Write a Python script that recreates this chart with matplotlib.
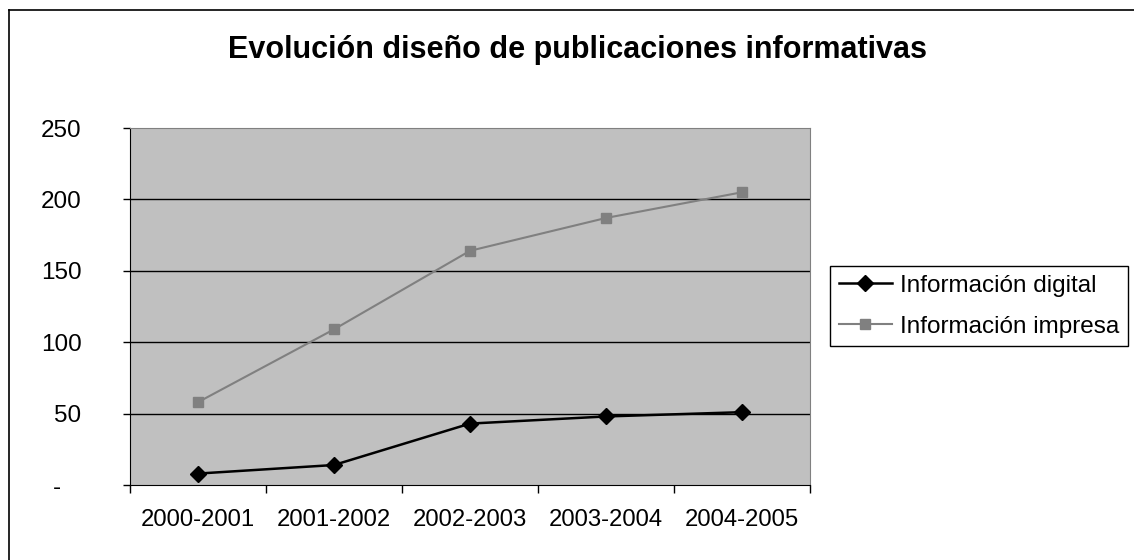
import matplotlib.pyplot as plt
from matplotlib.lines import Line2D
from matplotlib.ticker import FixedLocator, FuncFormatter

plt.rcParams["font.family"] = ["Liberation Sans", "DejaVu Sans"]

periods = ["2000-2001", "2001-2002", "2002-2003", "2003-2004", "2004-2005"]
digital = [8, 14, 43, 48, 51]
impresa = [58, 109, 164, 187, 205]
y_ticks = [0, 50, 100, 150, 200, 250]

fig = plt.figure(figsize=(11.34, 5.6), dpi=100)
ax = fig.add_axes([130 / 1134, 1 - 485 / 560, 680 / 1134, 357 / 560])
ax.set_facecolor("#c0c0c0")

x = list(range(len(periods)))
ax.plot(x, digital, color="black", lw=1.8, marker="D", ms=8,
        label="Información digital", zorder=3)
ax.plot(x, impresa, color="#808080", lw=1.5, marker="s", ms=7.5,
        label="Información impresa", zorder=3)

ax.set_xlim(-0.5, len(periods) - 0.5)
ax.set_ylim(0, 250)

# category labels centred, tick marks on category boundaries
ax.set_xticks(x)
ax.set_xticklabels(periods, fontsize=17.2)
ax.xaxis.set_minor_locator(FixedLocator([i - 0.5 for i in range(len(periods) + 1)]))
ax.tick_params(axis="x", which="major", length=0, pad=17)
ax.tick_params(axis="x", which="minor", length=6, width=1, color="black")

ax.set_yticks(y_ticks)
ax.yaxis.set_major_formatter(FuncFormatter(lambda v, p: "-   " if v == 0 else f"{v:.0f}"))
ax.tick_params(axis="y", length=5, width=1, pad=30, labelsize=17.5)

for v in y_ticks[1:-1]:
    ax.axhline(v, color="black", lw=1, zorder=1)

for side in ["left", "bottom"]:
    ax.spines[side].set_color("black")
for side in ["top", "right"]:
    ax.spines[side].set_color("#808080")

fig.text(577 / 1134, 1 - 58 / 560, "Evolución diseño de publicaciones informativas",
         fontsize=22, fontweight="bold", ha="center", va="baseline")

leg = ax.legend(loc="upper left", bbox_to_anchor=(830 / 1134, 1 - 266 / 560),
                bbox_transform=fig.transFigure, fontsize=17.5, frameon=True,
                fancybox=False, edgecolor="black", framealpha=1,
                handlelength=2.2, handletextpad=0.33, labelspacing=0.8,
                borderpad=0.35, borderaxespad=0)
leg.get_frame().set_linewidth(1)

# outer chart frame (only top and left edges are inside the picture)
fig.lines.append(Line2D([9 / 1134, 9 / 1134], [0, 1 - 10 / 560],
                        transform=fig.transFigure, color="black", lw=1.2))
fig.lines.append(Line2D([9 / 1134, 1], [1 - 10 / 560, 1 - 10 / 560],
                        transform=fig.transFigure, color="black", lw=1.2))

fig.savefig("out.png", dpi=100, facecolor="white")
